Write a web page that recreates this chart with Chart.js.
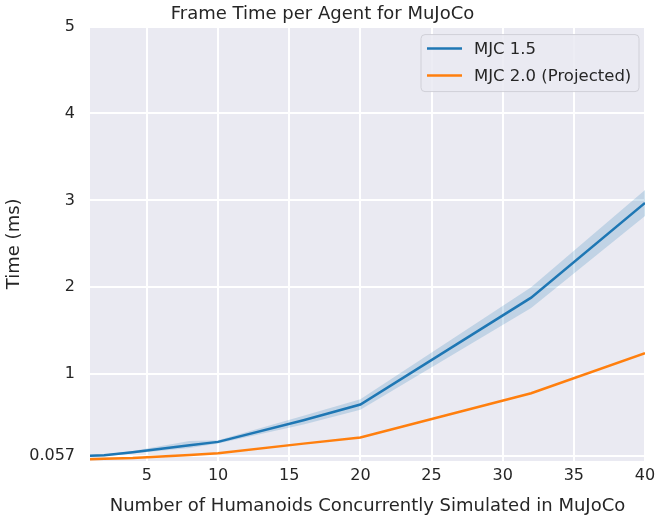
<!DOCTYPE html>
<html>
<head>
<meta charset="utf-8">
<script src="https://cdn.jsdelivr.net/npm/chart.js@4.4.0/dist/chart.umd.min.js"></script>
<style>
  body { margin: 0; background: #fff; }
  #wrap { width: 664px; height: 521px; }
</style>
</head>
<body>
<div id="wrap"><canvas id="chart" width="664" height="521"></canvas></div>
<script>
// humanoid counts sampled
const agents = [1, 2, 4, 8, 10, 16, 20, 32, 40]
const mjc15 = [0.06, 0.065, 0.10, 0.18, 0.22, 0.47, 0.65, 1.88, 2.97]
const mjc15Low = [0.05, 0.055, 0.085, 0.15, 0.20, 0.42, 0.59, 1.76, 2.82]
const mjc15High = [0.07, 0.075, 0.115, 0.23, 0.24, 0.52, 0.71, 2.00, 3.12]
const mjc20 = [0.02, 0.025, 0.035, 0.07, 0.09, 0.20, 0.27, 0.78, 1.24]
const seriesNames = ["MJC 1.5", "MJC 2.0 (Projected)"]
const xTicks = [5, 10, 15, 20, 25, 30, 35, 40]
const yTicks = [0.057, 1, 2, 3, 4, 5]

const BLUE = '#1f77b4'
const ORANGE = '#ff7f0e'
const TEXT = '#262626'
const FONT = "'DejaVu Sans', sans-serif"

const pts = (ys) => agents.map((x, i) => ({x: x, y: ys[i]}))

// seaborn-ish grey plot background
const plotBg = {
  id: 'plotBg',
  beforeDraw(chart) {
    const {ctx, chartArea: a} = chart
    ctx.save()
    ctx.fillStyle = '#eaeaf2'
    ctx.fillRect(a.left, a.top, a.right - a.left, a.bottom - a.top)
    ctx.restore()
  }
}

// legend box drawn inside the plot, top right
const boxLegend = {
  id: 'boxLegend',
  afterDraw(chart) {
    const {ctx, chartArea: a} = chart
    const items = chart.data.datasets.filter(d => d.inLegend)
    const w = 218, h = 57
    const x = a.right - 6 - w, y = a.top + 8
    ctx.save()
    ctx.beginPath()
    ctx.roundRect(x, y, w, h, 4)
    ctx.fillStyle = 'rgba(234,234,242,0.85)'
    ctx.fill()
    ctx.strokeStyle = '#d0d0d8'
    ctx.lineWidth = 1
    ctx.stroke()
    ctx.font = '16.5px ' + FONT
    ctx.textBaseline = 'middle'
    items.forEach((d, i) => {
      const ly = y + 14 + i * 27
      ctx.strokeStyle = d.borderColor
      ctx.lineWidth = 2.5
      ctx.beginPath()
      ctx.moveTo(x + 6, ly)
      ctx.lineTo(x + 41, ly)
      ctx.stroke()
      ctx.fillStyle = TEXT
      ctx.fillText(d.label, x + 53, ly + 1)
    })
    ctx.restore()
  }
}

new Chart(document.getElementById('chart'), {
  type: 'line',
  data: {
    datasets: [
      {label: 'low', data: pts(mjc15Low), borderWidth: 0, pointRadius: 0, fill: false},
      {label: 'high', data: pts(mjc15High), borderWidth: 0, pointRadius: 0,
       fill: '-1', backgroundColor: 'rgba(31,119,180,0.2)'},
      {label: seriesNames[0], data: pts(mjc15), borderColor: BLUE, borderWidth: 2.5,
       pointRadius: 0, fill: false, inLegend: true},
      {label: seriesNames[1], data: pts(mjc20), borderColor: ORANGE, borderWidth: 2.5,
       pointRadius: 0, fill: false, inLegend: true}
    ]
  },
  options: {
    responsive: false,
    animation: false,
    layout: {padding: {right: 19, top: 0}},
    plugins: {
      legend: {display: false},
      tooltip: {enabled: false},
      title: {
        display: true,
        text: 'Frame Time per Agent for MuJoCo',
        color: TEXT,
        font: {family: FONT, size: 18, weight: 'normal'},
        padding: {top: 4, bottom: 1}
      }
    },
    scales: {
      x: {
        type: 'linear',
        min: 1, max: 40,
        afterBuildTicks: (s) => { s.ticks = xTicks.map(v => ({value: v})) },
        afterFit: (s) => { s.height = 60 },
        grid: {color: '#ffffff', lineWidth: 2, drawTicks: false},
        border: {display: false},
        ticks: {color: TEXT, font: {family: FONT, size: 16}, padding: 5, maxRotation: 0},
        title: {display: true, text: 'Number of Humanoids Concurrently Simulated in MuJoCo',
                color: TEXT, font: {family: FONT, size: 18}, padding: {top: 2}}
      },
      y: {
        type: 'linear',
        min: 0, max: 5,
        afterBuildTicks: (s) => { s.ticks = yTicks.map(v => ({value: v})) },
        afterFit: (s) => { s.width = 90 },
        grid: {color: '#ffffff', lineWidth: 2, drawTicks: false},
        border: {display: false},
        ticks: {color: TEXT, font: {family: FONT, size: 16}, padding: 15,
                callback: (v) => String(v)},
        title: {display: true, text: 'Time (ms)', color: TEXT,
                font: {family: FONT, size: 18}, padding: {bottom: 4}}
      }
    }
  },
  plugins: [plotBg, boxLegend]
})
</script>
</body>
</html>
